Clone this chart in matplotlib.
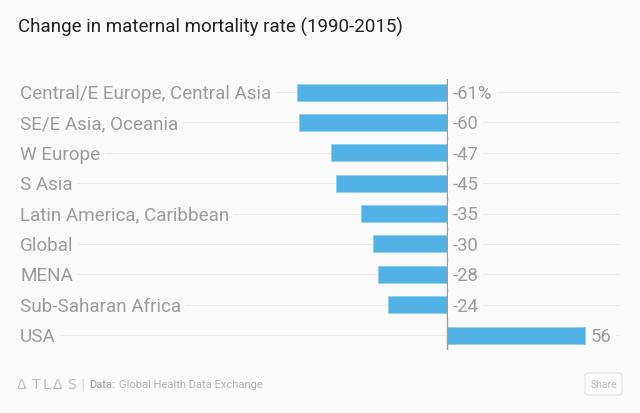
import matplotlib
matplotlib.use("Agg")
import matplotlib.pyplot as plt
from matplotlib.patches import FancyBboxPatch

regions = ["Central/E Europe, Central Asia", "SE/E Asia, Oceania", "W Europe", "S Asia",
           "Latin America, Caribbean", "Global", "MENA", "Sub-Saharan Africa", "USA"]
changes = [-61, -60, -47, -45, -35, -30, -28, -24, 56]
value_labels = ["-61%", "-60", "-47", "-45", "-35", "-30", "-28", "-24", "56"]

FONT = "Roboto"
BG = "#fafafa"
BAR = "#52b2e5"
GREY = "#9c9c9c"

W, H = 640, 414
fig = plt.figure(figsize=(W / 100, H / 100), dpi=100, facecolor=BG)

# axes spanning pixel x 20..620, y 80..351
x0, x1, y0, y1 = 20, 620, 80, 351
ax = fig.add_axes([x0 / W, 1 - y1 / H, (x1 - x0) / W, (y1 - y0) / H])
ax.set_facecolor(BG)
zero_px = 447
scale = 2.46
ax.set_xlim(-(zero_px - x0) / scale, (x1 - zero_px) / scale)
sp = 30.375
ax.set_ylim(8 + 15 / sp, -13 / sp)
for s in ax.spines.values():
    s.set_visible(False)
ax.set_xticks([])
ax.set_yticks([])

ypos = list(range(len(regions)))
for y in ypos:
    ax.axhline(y, color="#ebebeb", lw=0.8, zorder=0)
ax.barh(ypos, changes, height=17 / sp, color=BAR, edgecolor="#8fcdee", lw=0.6, zorder=2)
ax.axvline(0, color=GREY, lw=1.0, zorder=3)

xmin = ax.get_xlim()[0]
for y, name in zip(ypos, regions):
    ax.text(xmin, y + 0.03, name, ha="left", va="center", fontsize=13.6, color=GREY,
            family=FONT, zorder=4,
            bbox=dict(boxstyle="square,pad=0.25", fc=BG, ec="none"))
for y, v, lab in zip(ypos, changes, value_labels):
    ax.text(max(v, 0) + 2.4, y + 0.03, lab, ha="left", va="center", fontsize=13.3, color=GREY,
            family=FONT, zorder=4,
            bbox=dict(boxstyle="square,pad=0.25", fc=BG, ec="none"))

fig.text(18 / W, 1 - 27 / H, "Change in maternal mortality rate (1990-2015)", ha="left",
         va="center", fontsize=13.5, color="#222222", family=FONT)

# footer
fy = 1 - 385 / H
for ch, px in zip("ΔTLΔS", [17, 32, 43, 53, 67]):
    fig.text(px / W, fy, ch, ha="left", va="center", fontsize=10,
             color="#bdbdbd", family="DejaVu Sans")
fig.text(80 / W, fy, "|", ha="left", va="center", fontsize=9, color="#d0d0d0")
fig.text(89 / W, fy, "Data:", ha="left", va="center",
         fontsize=8, color="#a8a8a8", family=FONT, fontweight="medium")
fig.text(119 / W, fy, "Global Health Data Exchange", ha="left", va="center",
         fontsize=8, color="#b4b4b4", family=FONT)
btn = FancyBboxPatch((585 / W, 1 - 396 / H), 37 / W, 22 / H,
                     boxstyle="round,pad=0,rounding_size=0.006", transform=fig.transFigure,
                     fc=BG, ec="#e2e2e2", lw=0.8)
fig.patches.append(btn)
fig.text(603.5 / W, 1 - 385 / H, "Share", ha="center", va="center", fontsize=7.5,
         color="#bdbdbd", family=FONT)

fig.savefig("out.png", dpi=100, facecolor=BG)
